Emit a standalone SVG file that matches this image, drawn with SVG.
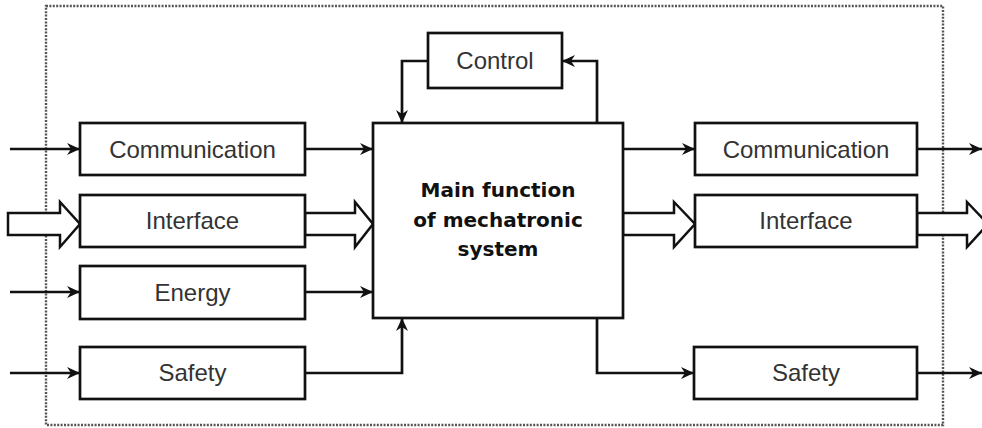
<svg xmlns="http://www.w3.org/2000/svg" width="982" height="428" viewBox="0 0 982 428">
  <defs>
    <marker id="arr" markerUnits="userSpaceOnUse" markerWidth="14" markerHeight="13" refX="13" refY="6.5" orient="auto">
      <path d="M0,0.5 L13,6.5 L0,12.5 L4,6.5 z" fill="#111"/>
    </marker>
  </defs>
  <style>
    .box { fill: #fff; stroke: #111; stroke-width: 2.7; }
    .lbl { font-family: "Liberation Sans", Arial, sans-serif; font-size: 24px; fill: #333; text-anchor: middle; }
    .main { font-family: "DejaVu Sans", Verdana, sans-serif; font-weight: bold; font-size: 20px; fill: #111; text-anchor: middle; }
    .ln { fill: none; stroke: #111; stroke-width: 2.7; }
    .hollow { fill: #fff; stroke: #111; stroke-width: 2.5; stroke-linejoin: miter; }
    .border { fill: none; stroke: #555; stroke-width: 2.4; stroke-dasharray: 2 1.4; }
  </style>
  <rect width="982" height="428" fill="#fff"/>
  <rect class="border" x="46" y="6" width="897" height="419"/>

  <g id="connectors">
    <line class="ln" x1="10" y1="149" x2="80" y2="149" marker-end="url(#arr)"/>
    <line class="ln" x1="305" y1="149" x2="373" y2="149" marker-end="url(#arr)"/>
    <line class="ln" x1="623" y1="149" x2="695" y2="149" marker-end="url(#arr)"/>
    <line class="ln" x1="917" y1="149" x2="982" y2="149" marker-end="url(#arr)"/>
    <line class="ln" x1="10" y1="292" x2="80" y2="292" marker-end="url(#arr)"/>
    <line class="ln" x1="305" y1="292" x2="373" y2="292" marker-end="url(#arr)"/>
    <line class="ln" x1="10" y1="373" x2="80" y2="373" marker-end="url(#arr)"/>
    <line class="ln" x1="917" y1="373" x2="982" y2="373" marker-end="url(#arr)"/>
    <polyline class="ln" points="305,373 402,373 402,318" marker-end="url(#arr)"/>
    <polyline class="ln" points="597,318 597,373 694,373" marker-end="url(#arr)"/>
    <polyline class="ln" points="428,61 402,61 402,123" marker-end="url(#arr)"/>
    <polyline class="ln" points="597,123 597,61 562,61" marker-end="url(#arr)"/>
    <polygon class="hollow" points="8,213 60,213 60,202 80,224 60,247 60,235 8,235"/>
    <polygon class="hollow" points="305,213 355,213 355,202 373,224 355,247 355,235 305,235"/>
    <polygon class="hollow" points="623,213 674,213 674,202 695,224 674,247 674,235 623,235"/>
    <polygon class="hollow" points="917,213 967,213 967,202 988,224 967,247 967,235 917,235"/>
  </g>

  <g id="control">
    <rect class="box" x="428" y="33" width="134" height="55"/>
    <text class="lbl" x="495" y="69">Control</text>
  </g>
  <g id="main">
    <rect class="box" x="373" y="123" width="250" height="195"/>
    <text class="main" x="498" y="197">Main function</text>
    <text class="main" x="498" y="227">of mechatronic</text>
    <text class="main" x="498" y="256">system</text>
  </g>
  <g id="comm-in">
    <rect class="box" x="80" y="123" width="225" height="52"/>
    <text class="lbl" x="192.5" y="158">Communication</text>
  </g>
  <g id="iface-in">
    <rect class="box" x="80" y="195" width="225" height="52"/>
    <text class="lbl" x="192.5" y="229">Interface</text>
  </g>
  <g id="energy-in">
    <rect class="box" x="80" y="266" width="225" height="53"/>
    <text class="lbl" x="192.5" y="301">Energy</text>
  </g>
  <g id="safety-in">
    <rect class="box" x="80" y="347" width="225" height="52"/>
    <text class="lbl" x="192.5" y="381">Safety</text>
  </g>
  <g id="comm-out">
    <rect class="box" x="695" y="123" width="222" height="52"/>
    <text class="lbl" x="806" y="158">Communication</text>
  </g>
  <g id="iface-out">
    <rect class="box" x="695" y="195" width="222" height="52"/>
    <text class="lbl" x="806" y="229">Interface</text>
  </g>
  <g id="safety-out">
    <rect class="box" x="694" y="347" width="223" height="52"/>
    <text class="lbl" x="806" y="381">Safety</text>
  </g>
</svg>
